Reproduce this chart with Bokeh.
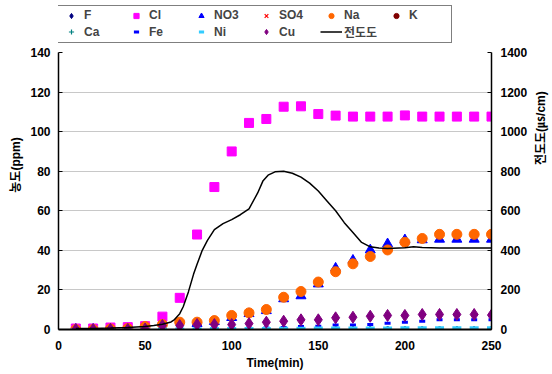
import math
from bokeh.plotting import figure
from bokeh.models import Range1d, LinearAxis, Legend, LegendItem, FixedTicker
from bokeh.embed import file_html
from bokeh.resources import INLINE

time = [10, 20, 30, 40, 50, 60, 70, 80, 90, 100, 110, 120, 130, 140, 150, 160, 170, 180, 190, 200, 210, 220, 230, 240, 250]
F = [0, 0, 0, 0, 0, 0, 0, 0, 0, 0, 0, 0, 0, 0, 0, 0, 0, 0, 0, 0, 0, 0, 0, 0, 0]
Cl = [0.5, 0.5, 1, 1.2, 1.7, 6.5, 16, 48, 72, 90, 104.4, 106.4, 112.6, 112.8, 108.9, 108.1, 107.6, 107.6, 107.6, 108.2, 107.6, 107.6, 107.6, 107.6, 107.6]
NO3 = [0, 0, 0, 0, 0, 0, 0, 3, 4, 6, 8, 9.5, 15.5, 17, 23, 31, 35, 40.2, 43.3, 45.3, 45.3, 45.6, 45.6, 45.6, 45.6]
SO4 = [0, 0, 0, 0, 0, 0, 0, 0, 0, 0, 0, 0, 0, 0, 0, 0, 0, 0, 0, 0, 0, 0, 0, 0, 0]
Na = [0, 0, 0.3, 0.5, 1.5, 2.5, 3.7, 3.7, 4.5, 7.1, 8.4, 10.1, 16.3, 19.2, 24, 29.2, 33.2, 36.9, 40.2, 44.1, 46, 48.1, 48.1, 48.1, 48.1]
K = [0, 0, 0, 0, 0, 0, 0, 0, 0, 0, 0, 0, 0, 0, 0, 0, 0, 0, 0, 0, 0, 0, 0, 0, 0]
Ca = [0, 0, 0, 0, 0, 0, 0, 0, 0, 0, 0, 0, 0, 0, 0, 0, 0, 0, 0, 0, 0, 0, 0, 0, 0]
Fe = [0, 0, 0, 0, 0, 0, 0, 0.2, 0.3, 0.5, 0.6, 0.8, 1.0, 1.5, 1.7, 2.3, 2.3, 2.5, 3.2, 3.7, 4.2, 4.9, 4.9, 4.9, 4.9]
Ni = [0, 0, 0, 0, 0.2, 0.3, 0.3, 0.4, 0.5, 0.5, 0.5, 0.5, 0.6, 0.6, 0.7, 0.7, 0.8, 0.8, 0.8, 0.9, 0.9, 0.9, 0.9, 0.9, 0.9]
Cu = [0, 0, 0, 0, 0.3, 2, 2, 2.5, 2.5, 2.5, 3, 3.7, 4.2, 4.9, 4.9, 5.9, 6.2, 6.7, 7.1, 7.1, 7.6, 7.6, 7.6, 7.6, 7.3]

cond_time = [10, 20, 30, 40, 50, 55, 60, 65, 67, 70, 72, 75, 78, 80, 83, 86, 90, 95, 100, 105, 110, 115, 118, 121, 125, 130, 135, 140, 145, 150, 155, 160, 165, 170, 175, 180, 185, 190, 200, 205, 210, 220, 250]
cond = [5, 5, 7, 10, 15, 20, 27, 38, 50, 80, 115, 190, 280, 330, 400, 450, 505, 535, 555, 580, 610, 690, 750, 780, 797, 800, 790, 770, 740, 700, 650, 600, 540, 490, 440, 418, 412, 410, 413, 418, 415, 412, 412]

x_ticks = [0, 50, 100, 150, 200, 250]
y_ticks = [0, 20, 40, 60, 80, 100, 120, 140]
y2_ticks = [0, 200, 400, 600, 800, 1000, 1200, 1400]
grid_ticks = [20, 40, 60, 80, 100, 120]

NUM_FONT = "Liberation Sans"
MIX_FONT = "'Liberation Sans', 'Noto Sans CJK KR'"

# plot area spans 0..140 over 277px; extra 52px above holds the legend
Y_TOP = 140 * 329 / 277

p = figure(frame_width=433, frame_height=329, output_backend="svg", toolbar_location=None,
           x_range=Range1d(0, 250), y_range=Range1d(0, Y_TOP),
           min_border_left=58, min_border_right=53, min_border_top=0, min_border_bottom=37)
p.extra_y_ranges = {"cond": Range1d(0, Y_TOP * 10)}
p.outline_line_color = None
p.background_fill_color = "white"

p.xgrid.grid_line_color = None
p.ygrid.grid_line_color = "#c8c8c8"
p.ygrid.grid_line_width = 1
p.ygrid.ticker = FixedTicker(ticks=grid_ticks)

p.xaxis.ticker = FixedTicker(ticks=x_ticks)
p.xaxis.axis_label = "Time(min)"
p.xaxis.major_tick_line_color = None
p.xaxis.minor_tick_line_color = None
p.xaxis.axis_line_color = "black"
p.xaxis.axis_line_width = 2
p.xaxis.axis_label_standoff = 3

p.yaxis.ticker = FixedTicker(ticks=y_ticks)
p.yaxis.bounds = (0, 140)
p.yaxis.axis_label = "농도(ppm)"
p.yaxis.major_tick_in = 4
p.yaxis.major_tick_out = 0
p.yaxis.minor_tick_line_color = None
p.yaxis.axis_line_width = 1.5
p.yaxis.major_label_standoff = 8
p.yaxis.axis_label_standoff = 4

ax2 = LinearAxis(y_range_name="cond", ticker=FixedTicker(ticks=y2_ticks), axis_label="전도도(㎲/cm)",
                 bounds=(0, 1400))
ax2.major_tick_in = 4
ax2.major_tick_out = 0
ax2.minor_tick_line_color = None
ax2.axis_line_width = 1.5
ax2.major_label_standoff = 9
ax2.axis_label_standoff = 11
ax2.axis_label_orientation = math.pi / 2
p.add_layout(ax2, "right")

for ax in [p.xaxis[0], p.yaxis[0], ax2]:
    ax.major_label_text_font = NUM_FONT
    ax.major_label_text_font_size = "12px"
    ax.major_label_text_font_style = "bold"
    ax.major_label_text_color = "black"
    ax.axis_label_text_font = MIX_FONT
    ax.axis_label_text_font_size = "12px"
    ax.axis_label_text_font_style = "bold"
    ax.axis_label_text_color = "black"

r_F = p.scatter(time, F, marker="diamond", size=7, color="#000080")
r_Cl = p.scatter(time, Cl, marker="square", size=9, color="#FF00FF")
r_NO3 = p.scatter(time, NO3, marker="triangle", size=10, color="#0000FF")
r_SO4 = p.scatter(time, SO4, marker="x", size=6, line_color="#FF0000", line_width=1.2)
r_Na = p.scatter(time, Na, marker="circle", size=10, color="#FF6600")
r_K = p.scatter(time, K, marker="circle", size=5, color="#800000")
r_Ca = p.scatter(time, Ca, marker="cross", size=7, line_color="#008080", line_width=1.2)
r_Fe = p.scatter(time, Fe, marker="dash", size=6, line_color="#0000FF", line_width=3)
r_Ni = p.scatter(time, Ni, marker="dash", size=9, line_color="#33CCFF", line_width=3)
r_Cu = p.scatter(time, Cu, marker="diamond", size=12, color="#800080")
r_cond = p.line(cond_time, cond, y_range_name="cond", line_color="black", line_width=1.5)

items = [
    LegendItem(label="F", renderers=[r_F]),
    LegendItem(label="Cl", renderers=[r_Cl]),
    LegendItem(label="NO3", renderers=[r_NO3]),
    LegendItem(label="SO4", renderers=[r_SO4]),
    LegendItem(label="Na", renderers=[r_Na]),
    LegendItem(label="K", renderers=[r_K]),
    LegendItem(label="Ca", renderers=[r_Ca]),
    LegendItem(label="Fe", renderers=[r_Fe]),
    LegendItem(label="Ni", renderers=[r_Ni]),
    LegendItem(label="Cu", renderers=[r_Cu]),
    LegendItem(label="전도도", renderers=[r_cond]),
]
legend = Legend(items=items, orientation="horizontal", nrows=2, location=(-1, 286),
                label_text_font=MIX_FONT, label_text_font_size="12px", label_text_font_style="bold",
                glyph_width=22, glyph_height=13, label_standoff=2, label_width=40, spacing=1,
                padding=2, margin=0, border_line_color="black", border_line_width=1,
                label_height=13, background_fill_alpha=1)
p.add_layout(legend, "center")

open("out.html", "w").write(file_html(p, INLINE))
